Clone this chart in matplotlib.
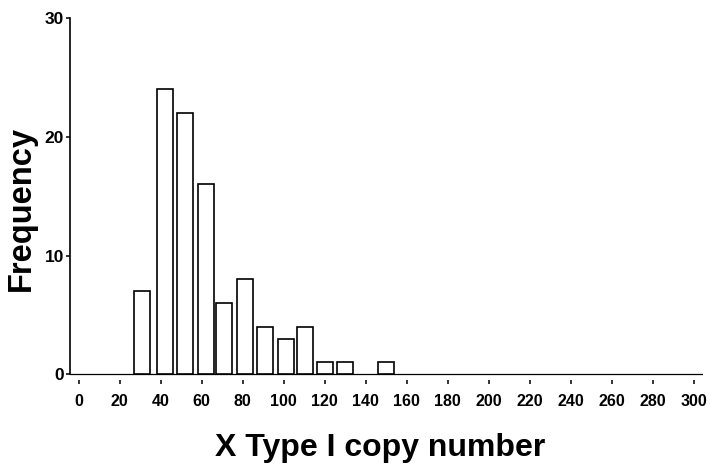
import matplotlib
matplotlib.use("Agg")
import matplotlib.pyplot as plt

# bins (bar centres drift a bit in the scan)
bin_centres = [31, 42, 52, 62, 71, 81, 91, 101, 110.5, 120, 130, 150]
frequency = [7, 24, 22, 16, 6, 8, 4, 3, 4, 1, 1, 1]
x_ticks = list(range(0, 301, 20))
y_ticks = [0, 10, 20, 30]

plt.rcParams["font.family"] = ["Liberation Sans", "DejaVu Sans"]

fig = plt.figure(figsize=(7.1, 4.74), dpi=100)
ax = fig.add_axes([0.0979, 0.1983, 0.8927, 0.7631])

ax.bar(bin_centres, frequency, width=7.8, color="white", edgecolor="black",
       linewidth=1.2, zorder=3)
ax.axhline(0, color="black", linewidth=0.9, zorder=2)

ax.set_xlim(-4.4, 304.6)
ax.set_ylim(-0.48, 30)
ax.set_xticks(x_ticks)
ax.set_yticks(y_ticks)

for side in ["top", "right", "bottom"]:
    ax.spines[side].set_visible(False)
ax.spines["left"].set_bounds(0, 30)
ax.spines["left"].set_linewidth(1.2)

ax.tick_params(axis="x", direction="out", length=3, width=1.1, pad=7,
               labelsize=11.5)
ax.tick_params(axis="y", direction="out", length=3, width=1.1, pad=1,
               labelsize=12.5)
for lbl in ax.get_xticklabels() + ax.get_yticklabels():
    lbl.set_fontweight("bold")

ax.set_xlabel("X Type I copy number", fontsize=23, fontweight="bold",
              va="center", ha="center")
ax.xaxis.set_label_coords(0.49, -0.188)
ax.set_ylabel("Frequency", fontsize=23.5, fontweight="bold",
              va="center", ha="center")
ax.yaxis.set_label_coords(-0.076, 0.473)

fig.savefig("out.png", dpi=100)
